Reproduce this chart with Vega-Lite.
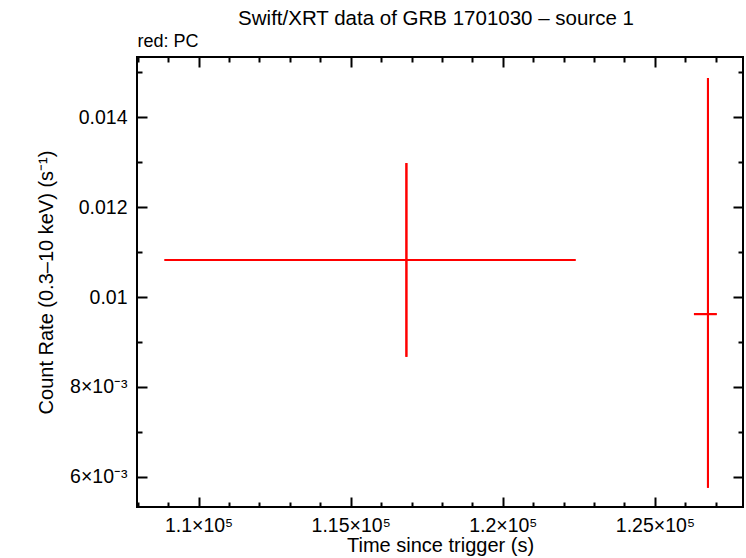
{
  "$schema": "https://vega.github.io/schema/vega-lite/v6.json",
  "width": 606,
  "height": 450,
  "autosize": "none",
  "padding": {"left": 137, "top": 57, "right": 3, "bottom": 51},
  "background": "white",
  "config": {
    "font": "Liberation Sans",
    "view": {"stroke": "black", "strokeWidth": 2},
    "axis": {"domain": false, "grid": false, "tickColor": "black", "tickWidth": 2, "labelColor": "black", "titleColor": "black", "labelFont": "Liberation Sans", "titleFont": "Liberation Sans", "labelFontSize": 19.5, "titleFontSize": 20, "titleFontWeight": "normal"}
  },
  "title": {"text": "Swift/XRT data of GRB 1701030 – source 1", "anchor": "middle", "frame": "group", "fontSize": 20.5, "fontWeight": "normal", "font": "Liberation Sans", "color": "black", "offset": 3, "dx": -4},
  "data": {"values": [
    {"t": 116832, "tlo": 108882, "thi": 122391, "r": 0.010822, "rlo": 0.008668, "rhi": 0.012982},
    {"t": 126743, "tlo": 126283, "thi": 127030, "r": 0.009619, "rlo": 0.005751, "rhi": 0.014875}
  ]},
  "resolve": {"axis": {"x": "independent", "y": "independent"}},
  "layer": [
    {
      "mark": {"type": "rule", "color": "#ff0000", "strokeWidth": 2},
      "encoding": {
        "x": {"field": "tlo", "type": "quantitative", "scale": {"domain": [107977, 127895], "nice": false, "zero": false},
          "axis": {"orient": "bottom", "values": [110000, 115000, 120000, 125000], "tickSize": -10, "labelPadding": 19, "labelExpr": "datum.value/100000 + '×10⁵'", "title": "Time since trigger (s)", "titlePadding": 1}},
        "x2": {"field": "thi"},
        "y": {"field": "r", "type": "quantitative", "scale": {"domain": [0.005325, 0.015343], "nice": false, "zero": false},
          "axis": {"orient": "left", "values": [0.006, 0.008, 0.01, 0.012, 0.014], "tickSize": -10, "labelPadding": 20, "labelExpr": "datum.value < 0.009 ? round(datum.value*1000) + '×10⁻³' : format(datum.value, '.3~f')", "title": "Count Rate (0.3–10 keV) (s⁻¹)", "titlePadding": 13}}
      }
    },
    {
      "mark": {"type": "rule", "color": "#ff0000", "strokeWidth": 2},
      "encoding": {
        "x": {"field": "t", "type": "quantitative", "scale": {"domain": [107977, 127895], "nice": false, "zero": false},
          "axis": {"orient": "top", "values": [110000, 115000, 120000, 125000], "tickSize": -10, "labels": false, "title": "red: PC", "titleAnchor": "start", "titleAlign": "left", "titleFontSize": 18, "titlePadding": 6}},
        "y": {"field": "rlo", "type": "quantitative", "scale": {"domain": [0.005325, 0.015343], "nice": false, "zero": false},
          "axis": {"orient": "right", "values": [0.006, 0.008, 0.01, 0.012, 0.014], "tickSize": -10, "labels": false, "title": null}},
        "y2": {"field": "rhi"}
      }
    },
    {
      "mark": {"type": "rule", "color": "#ff0000", "strokeWidth": 2},
      "encoding": {
        "x": {"field": "tlo", "type": "quantitative", "scale": {"domain": [107977, 127895], "nice": false, "zero": false},
          "axis": {"orient": "bottom", "values": [108000, 109000, 111000, 112000, 113000, 114000, 116000, 117000, 118000, 119000, 121000, 122000, 123000, 124000, 126000, 127000], "tickSize": -5, "labels": false, "title": null}},
        "x2": {"field": "thi"},
        "y": {"field": "r", "type": "quantitative", "scale": {"domain": [0.005325, 0.015343], "nice": false, "zero": false},
          "axis": {"orient": "left", "values": [0.007, 0.009, 0.011, 0.013, 0.015], "tickSize": -5, "labels": false, "title": null}}
      }
    },
    {
      "mark": {"type": "rule", "color": "#ff0000", "strokeWidth": 2},
      "encoding": {
        "x": {"field": "t", "type": "quantitative", "scale": {"domain": [107977, 127895], "nice": false, "zero": false},
          "axis": {"orient": "top", "values": [108000, 109000, 111000, 112000, 113000, 114000, 116000, 117000, 118000, 119000, 121000, 122000, 123000, 124000, 126000, 127000], "tickSize": -5, "labels": false, "title": null}},
        "y": {"field": "rlo", "type": "quantitative", "scale": {"domain": [0.005325, 0.015343], "nice": false, "zero": false},
          "axis": {"orient": "right", "values": [0.007, 0.009, 0.011, 0.013, 0.015], "tickSize": -5, "labels": false, "title": null}},
        "y2": {"field": "rhi"}
      }
    }
  ]
}
